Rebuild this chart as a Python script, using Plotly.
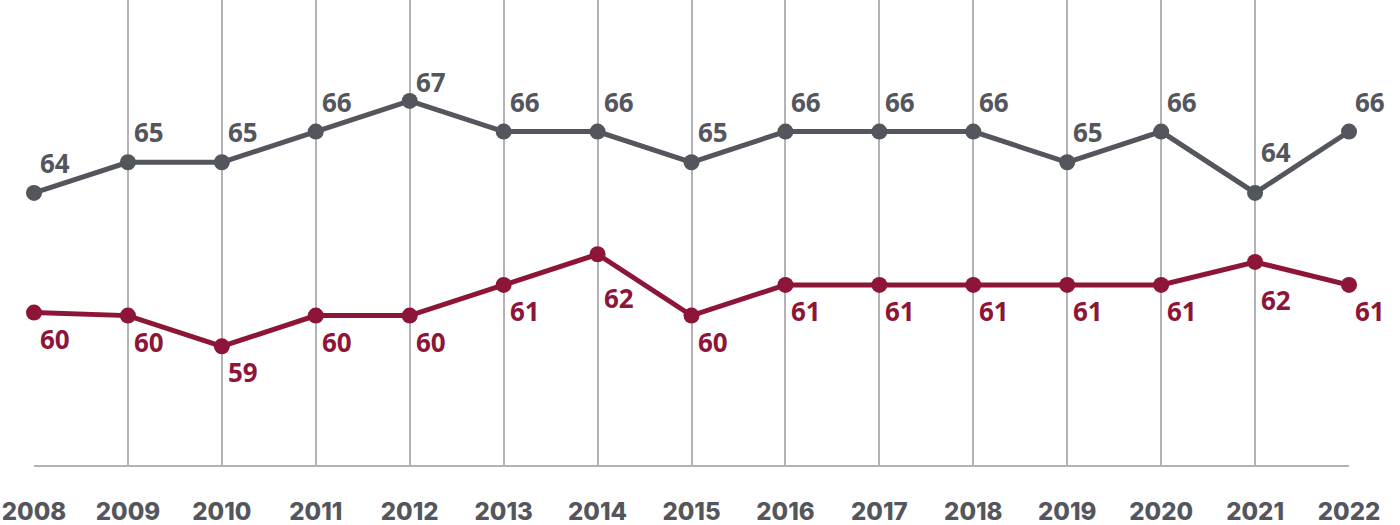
import plotly.graph_objects as go

years = ["2008", "2009", "2010", "2011", "2012", "2013", "2014", "2015",
         "2016", "2017", "2018", "2019", "2020", "2021", "2022"]
gray_values = [64, 65, 65, 66, 67, 66, 66, 65, 66, 66, 66, 65, 66, 64, 66]
red_values = [60.1, 60, 59, 60, 60, 61, 62, 60, 61, 61, 61, 61, 61, 61.75, 61]

GRAY = "#54565d"
RED = "#8c1538"
GRID = "#b3b3b7"

# label vertical offsets in px (style only); positive = upward
gray_shift = {"2012": 19, "2021": 41}
red_shift = {"2014": -44, "2021": -38}

fig = go.Figure()
fig.add_trace(go.Scatter(x=years, y=gray_values, mode="lines+markers",
                         line=dict(color=GRAY, width=5), cliponaxis=False,
                         marker=dict(color=GRAY, size=16), hoverinfo="skip"))
fig.add_trace(go.Scatter(x=years, y=red_values, mode="lines+markers",
                         line=dict(color=RED, width=5), cliponaxis=False,
                         marker=dict(color=RED, size=16), hoverinfo="skip"))

for i, (yr, v) in enumerate(zip(years, gray_values)):
    fig.add_annotation(x=i, y=v, xref="x", yref="y", text="<b>%d</b>" % round(v),
                       showarrow=False, xanchor="left", yanchor="middle", xshift=4,
                       yshift=gray_shift.get(yr, 30),
                       font=dict(family="Open Sans", size=26, color=GRAY))
for i, (yr, v) in enumerate(zip(years, red_values)):
    fig.add_annotation(x=i, y=v, xref="x", yref="y", text="<b>%d</b>" % round(v),
                       showarrow=False, xanchor="left", yanchor="middle", xshift=4,
                       yshift=red_shift.get(yr, -26),
                       font=dict(family="Open Sans", size=26, color=RED))

fig.update_layout(
    width=1400, height=525,
    margin=dict(l=34, r=51, t=0, b=60),
    paper_bgcolor="white", plot_bgcolor="white",
    showlegend=False,
    xaxis=dict(type="category", range=[0, 14], showgrid=True, gridcolor=GRID, gridwidth=2,
               showline=True, linecolor=GRID, linewidth=2, zeroline=False,
               ticks="", ticklabelstandoff=24, automargin=False,
               tickfont=dict(family="Inter", size=24, color=GRAY, weight=800)),
    yaxis=dict(range=[55.13, 70.29], showgrid=False, zeroline=False,
               showticklabels=False, showline=False, automargin=False),
)

fig.write_html("out.html")
